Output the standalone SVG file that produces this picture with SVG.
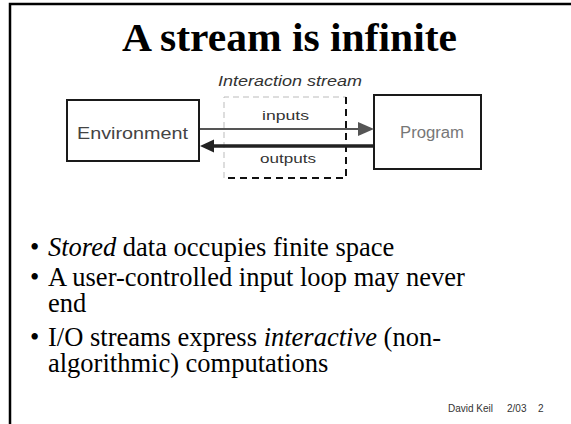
<svg xmlns="http://www.w3.org/2000/svg" width="571" height="424" viewBox="0 0 571 424">
<defs>
<style>
.frame{stroke:#000;stroke-width:2.5;fill:none}
.box{fill:#fff;stroke:#1a1a1a;stroke-width:2}
.sans{font-family:"Liberation Sans",Arial,sans-serif}
.serif{font-family:"Liberation Serif","Times New Roman",serif}
.lbl{font-size:13.5px;fill:#333}
.bul{font-size:26.5px;fill:#000}
</style>
</defs>
<rect width="571" height="424" fill="#fff"/>
<path class="frame" d="M10,424 V4 H571"/>
<text class="serif" x="122" y="51" font-size="39" font-weight="bold" textLength="335" lengthAdjust="spacingAndGlyphs">A stream is infinite</text>
<g id="interaction-stream">
<text class="sans" x="218" y="86" font-size="14" font-style="italic" fill="#333" textLength="144" lengthAdjust="spacingAndGlyphs">Interaction stream</text>
<path d="M224,178 V97 H346" fill="none" stroke="#bbb" stroke-width="1" stroke-dasharray="6,4"/>
<path d="M346,97 V178 H224" fill="none" stroke="#111" stroke-width="2" stroke-dasharray="7,5"/>
</g>
<g id="environment">
<rect class="box" x="67" y="100" width="132" height="61"/>
<text class="sans" x="77" y="139" font-size="16" fill="#444" textLength="111" lengthAdjust="spacingAndGlyphs">Environment</text>
</g>
<g id="program">
<rect class="box" x="374" y="95" width="107" height="74"/>
<text class="sans" x="400" y="138" font-size="16" fill="#777" textLength="64" lengthAdjust="spacingAndGlyphs">Program</text>
</g>
<g id="connectors">
<line x1="200" y1="129" x2="359" y2="129" stroke="#555" stroke-width="1.8"/>
<polygon points="358,122 374,129 358,136" fill="#555"/>
<line x1="373" y1="146" x2="213" y2="146" stroke="#222" stroke-width="3.5"/>
<polygon points="214,139.5 200,146 214,152.5" fill="#222"/>
<text class="sans lbl" x="262" y="120" textLength="47" lengthAdjust="spacingAndGlyphs">inputs</text>
<text class="sans lbl" x="260" y="163" textLength="56" lengthAdjust="spacingAndGlyphs">outputs</text>
</g>
<g id="bullets" class="serif bul">
<text x="30" y="256">•</text>
<text x="48" y="256"><tspan font-style="italic">Stored</tspan> data occupies finite space</text>
<text x="30" y="286">•</text>
<text x="48" y="286">A user-controlled input loop may never</text>
<text x="48" y="312">end</text>
<text x="30" y="346">•</text>
<text x="48" y="346">I/O streams express <tspan font-style="italic">interactive</tspan> (non-</text>
<text x="48" y="372">algorithmic) computations</text>
</g>
<text class="sans" y="412" font-size="10" fill="#333"><tspan x="448">David Keil</tspan><tspan x="507">2/03</tspan><tspan x="538">2</tspan></text>
</svg>
